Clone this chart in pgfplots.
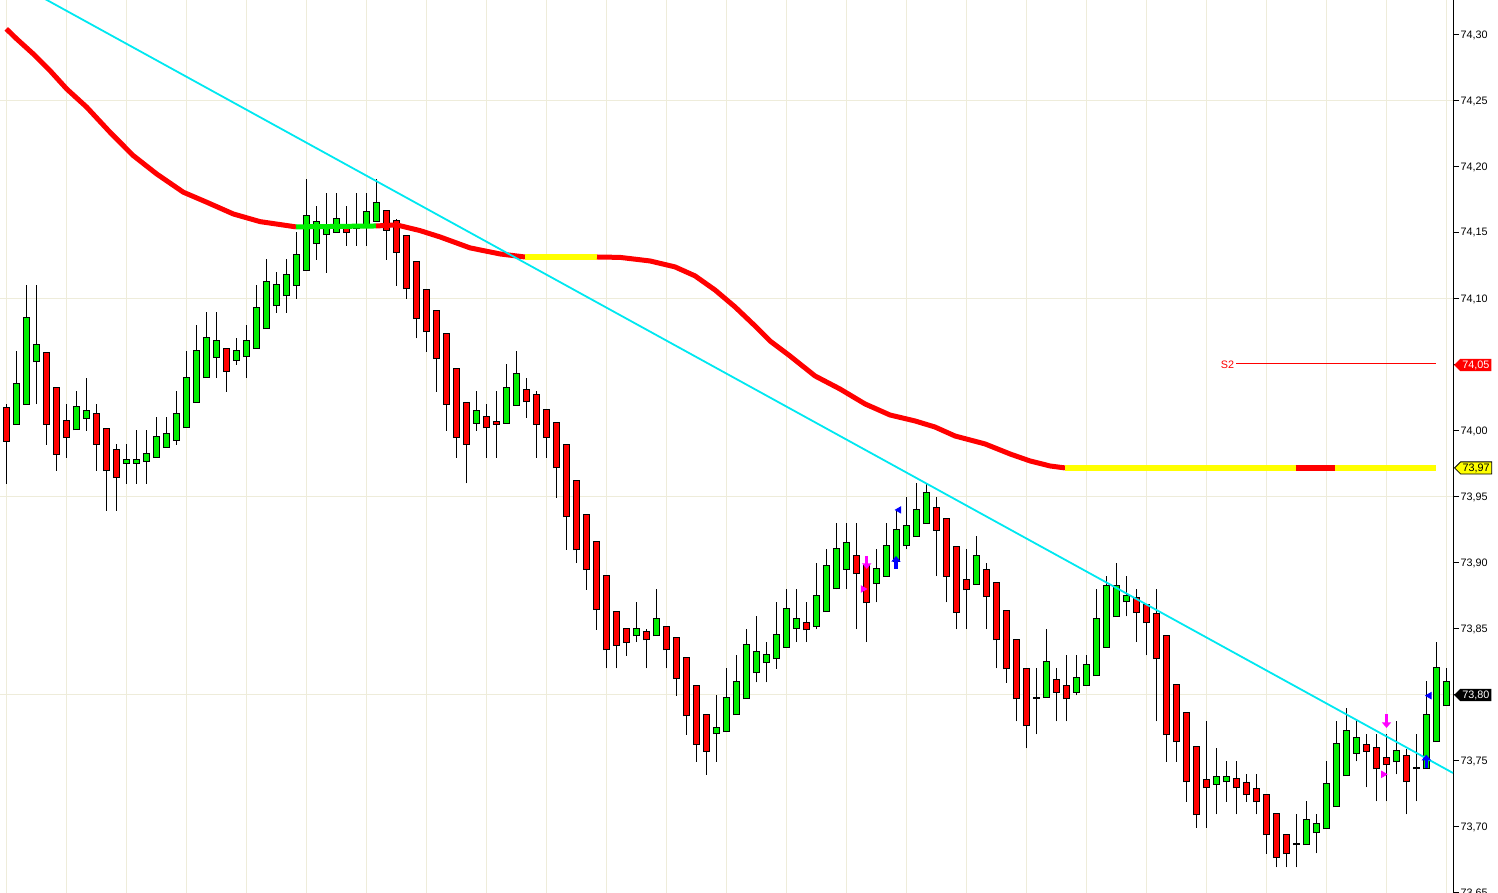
\documentclass[border=0pt]{standalone}
\usepackage{fontspec}
\setmainfont{Liberation Sans}
\usepackage{pgfplots}
\pgfplotsset{compat=1.18}
\usepackage{pgfplotstable}
\usetikzlibrary{shapes.symbols,arrows.meta}

\definecolor{upgreen}{RGB}{0,238,0}
\definecolor{downred}{RGB}{255,0,0}
\definecolor{mayellow}{RGB}{255,255,0}
\definecolor{trendcyan}{RGB}{0,232,240}
\definecolor{gridc}{RGB}{238,236,218}
\definecolor{sigmag}{RGB}{255,0,255}
\definecolor{sigblue}{RGB}{0,0,255}

\newcommand\tagfont{\fontsize{5.4}{6}\selectfont}

% i = bar number, o h l c = open high low close
\pgfplotstableread{
i o h l c
0 74.0172 74.0205 73.9599 73.9927
1 74.0051 74.0609 74.0051 74.0354
2 74.0203 74.1106 74.0203 74.0854
3 74.0528 74.1106 74.0203 74.0650
4 74.0589 74.0589 73.9897 74.0051
5 74.0324 74.0324 73.9700 73.9824
6 74.0074 74.0205 73.9796 73.9953
7 74.0013 74.0303 74.0013 74.0180
8 74.0097 74.0402 74.0003 74.0150
9 74.0127 74.0205 73.9700 73.9900
10 74.0013 74.0013 73.9396 73.9702
11 73.9854 73.9902 73.9396 73.9650
12 73.9756 73.9902 73.9599 73.9778
13 73.9760 74.0008 73.9599 73.9778
14 73.9771 74.0008 73.9599 73.9824
15 73.9801 74.0106 73.9801 73.9953
16 73.9877 74.0106 73.9877 73.9975
17 73.9930 74.0303 73.9897 74.0127
18 74.0028 74.0609 74.0028 74.0400
19 74.0218 74.0803 74.0218 74.0604
20 74.0407 74.0899 74.0407 74.0702
21 74.0559 74.0899 74.0400 74.0680
22 74.0619 74.0619 74.0298 74.0453
23 74.0536 74.0702 74.0502 74.0604
24 74.0566 74.0803 74.0400 74.0680
25 74.0627 74.1106 74.0627 74.0930
26 74.0778 74.1303 74.0778 74.1127
27 74.0952 74.1202 74.0896 74.1104
28 74.1028 74.1303 74.0896 74.1180
29 74.1104 74.1506 74.1002 74.1331
30 74.1218 74.1909 74.1218 74.1627
31 74.1422 74.1705 74.1298 74.1581
32 74.1490 74.1803 74.1199 74.1556
33 74.1506 74.1803 74.1506 74.1604
34 74.1556 74.1705 74.1404 74.1506
35 74.1538 74.1803 74.1404 74.1556
36 74.1543 74.1803 74.1404 74.1657
37 74.1593 74.1909 74.1593 74.1725
38 74.1664 74.1664 74.1298 74.1525
39 74.1593 74.1606 74.1101 74.1354
40 74.1475 74.1475 74.1000 74.1081
41 74.1278 74.1278 74.0702 74.0854
42 74.1066 74.1066 74.0601 74.0755
43 74.0907 74.0907 74.0298 74.0551
44 74.0733 74.0733 74.0003 74.0203
45 74.0467 74.0467 73.9798 73.9953
46 74.0210 74.0210 73.9604 73.9900
47 74.0061 74.0301 74.0003 74.0150
48 74.0104 74.0203 73.9798 74.0028
49 74.0066 74.0301 73.9798 74.0051
50 74.0061 74.0506 74.0061 74.0324
51 74.0195 74.0604 74.0195 74.0430
52 74.0309 74.0400 74.0101 74.0225
53 74.0271 74.0301 73.9798 74.0051
54 74.0157 74.0157 73.9798 73.9953
55 74.0059 74.0059 73.9495 73.9725
56 73.9892 73.9892 73.9101 73.9354
57 73.9619 73.9619 73.8998 73.9104
58 73.9362 73.9362 73.8798 73.8953
59 73.9157 73.9157 73.8495 73.8650
60 73.8900 73.8900 73.8202 73.8346
61 73.8627 73.8627 73.8202 73.8377
62 73.8498 73.8498 73.8298 73.8400
63 73.8452 73.8707 73.8400 73.8498
64 73.8475 73.8498 73.8202 73.8422
65 73.8452 73.8803 73.8452 73.8574
66 73.8513 73.8513 73.8202 73.8346
67 73.8430 73.8430 73.7995 73.8127
68 73.8278 73.8278 73.7699 73.7846
69 73.8066 73.8066 73.7495 73.7627
70 73.7846 73.7846 73.7396 73.7574
71 73.7710 73.8000 73.7495 73.7748
72 73.7725 73.8202 73.7725 73.7975
73 73.7854 73.8301 73.7854 73.8096
74 73.7975 73.8498 73.7975 73.8377
75 73.8172 73.8596 73.8096 73.8324
76 73.8248 73.8400 73.8096 73.8301
77 73.8278 73.8702 73.8199 73.8452
78 73.8362 73.8801 73.8362 73.8650
79 73.8506 73.8801 73.8400 73.8574
80 73.8543 73.8702 73.8400 73.8498
81 73.8521 73.8998 73.8498 73.8748
82 73.8634 73.9104 73.8634 73.8975
83 73.8808 73.9301 73.8801 73.9104
84 73.8953 73.9301 73.8801 73.9150
85 73.9051 73.9301 73.8498 73.8922
86 73.8983 73.8983 73.8400 73.8702
87 73.8846 73.9104 73.8702 73.8953
88 73.8900 73.9301 73.8900 73.9127
89 73.9013 73.9399 73.9013 73.9248
90 73.9134 73.9498 73.9104 73.9278
91 73.9202 73.9604 73.9202 73.9399
92 73.9301 73.9604 73.9301 73.9528
93 73.9415 73.9498 73.8900 73.9248
94 73.9331 73.9331 73.8702 73.8900
95 73.9119 73.9119 73.8498 73.8627
96 73.8869 73.9104 73.8498 73.8801
97 73.8839 73.9202 73.8839 73.9051
98 73.8945 73.8998 73.8498 73.8748
99 73.8846 73.8846 73.8202 73.8422
100 73.8634 73.8634 73.8093 73.8202
101 73.8415 73.8415 73.7801 73.7975
102 73.8195 73.8195 73.7596 73.7770
103 73.7980 73.8202 73.7702 73.7980
104 73.7983 73.8498 73.7983 73.8248
105 73.8112 73.8202 73.7801 73.8021
106 73.8066 73.8301 73.7801 73.7975
107 73.8021 73.8301 73.7998 73.8127
108 73.8074 73.8301 73.8074 73.8225
109 73.8149 73.8801 73.8149 73.8574
110 73.8362 73.8900 73.8362 73.8824
111 73.8596 73.8998 73.8596 73.8824
112 73.8710 73.8900 73.8596 73.8748
113 73.8733 73.8801 73.8400 73.8627
114 73.8680 73.8680 73.8301 73.8551
115 73.8612 73.8801 73.7801 73.8278
116 73.8445 73.8445 73.7495 73.7702
117 73.8074 73.8074 73.7495 73.7649
118 73.7861 73.7861 73.7192 73.7346
119 73.7604 73.7604 73.6995 73.7096
120 73.7354 73.7801 73.6995 73.7301
121 73.7324 73.7596 73.7096 73.7377
122 73.7346 73.7498 73.7192 73.7377
123 73.7362 73.7498 73.7096 73.7301
124 73.7331 73.7399 73.7192 73.7248
125 73.7286 73.7399 73.7096 73.7195
126 73.7240 73.7240 73.6798 73.6945
127 73.7096 73.7096 73.6695 73.6771
128 73.6937 73.6937 73.6695 73.6801
129 73.6869 73.7096 73.6695 73.6869
130 73.6869 73.7195 73.6869 73.7051
131 73.6960 73.7096 73.6801 73.7020
132 73.6990 73.7498 73.6990 73.7324
133 73.7157 73.7801 73.7157 73.7627
134 73.7392 73.7900 73.7392 73.7725
135 73.7559 73.7801 73.7498 73.7672
136 73.7619 73.7702 73.7301 73.7574
137 73.7596 73.7702 73.7195 73.7445
138 73.7520 73.7702 73.7195 73.7475
139 73.7498 73.7801 73.7399 73.7574
140 73.7536 73.7589 73.7096 73.7346
141 73.7445 73.7702 73.7195 73.7445
142 73.7445 73.8104 73.7445 73.7846
143 73.7649 73.8400 73.7649 73.8202
144 73.7922 73.8202 73.7922 73.8096
}\candles

\begin{document}
\begin{tikzpicture}
\begin{axis}[
  scale only axis, width=726.5pt, height=446.5pt,
  xmin=-0.65, xmax=144.65, ymin=73.65, ymax=74.3265,
  clip mode=individual,
  axis line style={draw=none},
  xtick={0,6,...,144}, xticklabels={}, xtick style={draw=none},
  xmajorgrids,
  ytick={73.65,73.70,73.75,73.80,73.85,73.90,73.95,74.00,74.05,74.10,74.15,74.20,74.25,74.30},
  ytick pos=right, yticklabel pos=right,
  tick align=outside, major tick length=3pt,
  ytick style={black, line width=0.5pt},
  extra y ticks={73.80,73.95,74.10,74.25}, extra y tick labels={},
  extra y tick style={grid=major},
  major grid style={gridc, line width=0.5pt},
  scaled y ticks=false,
  yticklabel style={font=\tagfont, inner xsep=0.6pt,
    /pgf/number format/.cd, fixed, fixed zerofill, precision=2, use comma,
    assume math mode=true},
]
\coordinate (sw) at (rel axis cs:0,0);
\draw[black, line width=0.5pt] (rel axis cs:1,0) -- (rel axis cs:1,1);

% wicks
\addplot[draw=none, no markers, error bars/.cd, y dir=plus, y explicit,
  error mark=none, error bar style={draw=black, line width=0.6pt}]
  table[x=i, y=l, y error expr={\thisrow{h}-\thisrow{l}}] {\candles};
% body outlines
\addplot[draw=none, no markers, error bars/.cd, y dir=plus, y explicit,
  error mark=none, error bar style={draw=black, line width=3.5pt}]
  table[x=i, y expr={min(\thisrow{o},\thisrow{c})-0.00076},
        y error expr={abs(\thisrow{c}-\thisrow{o})+0.00152}] {\candles};
% up bodies
\addplot[draw=none, no markers,
  restrict expr to domain={\thisrow{c}-\thisrow{o}}{0:1},
  error bars/.cd, y dir=plus, y explicit,
  error mark=none, error bar style={draw=upgreen, line width=2.5pt}]
  table[x=i, y=o, y error expr={\thisrow{c}-\thisrow{o}}] {\candles};
% down bodies
\addplot[draw=none, no markers,
  restrict expr to domain={\thisrow{o}-\thisrow{c}}{0.00001:1},
  error bars/.cd, y dir=plus, y explicit,
  error mark=none, error bar style={draw=downred, line width=2.5pt}]
  table[x=i, y=c, y error expr={\thisrow{o}-\thisrow{c}}] {\candles};

% moving average, coloured by state
\addplot[downred, line width=2.5pt, line join=round] coordinates {
  (-0.02,74.3046) (1.02,74.2970) (2.68,74.2856) (4.35,74.2730) (6.02,74.2591)
  (8.02,74.2453) (10.35,74.2263) (12.68,74.2086) (15.02,74.1947) (17.68,74.1809)
  (20.02,74.1733) (22.68,74.1644) (25.35,74.1586) (28.95,74.1546)};
\addplot[upgreen, line width=2.5pt] coordinates {(28.95,74.1546) (36.95,74.1553)};
\addplot[downred, line width=2.5pt, line join=round] coordinates {
  (36.95,74.1553) (39.02,74.1561) (41.35,74.1518) (43.35,74.1470) (46.35,74.1387)
  (49.35,74.1341) (51.85,74.1318)};
\addplot[mayellow, line width=3pt] coordinates {(51.85,74.1318) (59.05,74.1318)};
\addplot[downred, line width=2.5pt, line join=round] coordinates {
  (59.05,74.1318) (61.35,74.1315) (64.35,74.1288) (66.85,74.1243) (68.85,74.1175)
  (70.85,74.1068) (72.85,74.0940) (74.85,74.0796) (76.35,74.0682) (78.35,74.0568)
  (80.85,74.0417) (83.35,74.0318) (85.85,74.0205) (88.35,74.0121) (90.85,74.0076)
  (92.85,74.0030) (94.85,73.9962) (97.85,73.9902) (100.35,73.9826) (102.35,73.9773)
  (104.35,73.9735) (105.85,73.9720)};
\addplot[mayellow, line width=3pt] coordinates {(105.85,73.9720) (128.92,73.9720)};
\addplot[downred, line width=3pt] coordinates {(128.92,73.9720) (132.85,73.9720)};
\addplot[mayellow, line width=3pt] coordinates {(132.85,73.9720) (142.95,73.9720)};

% trend line
\addplot[trendcyan, line width=0.9pt] coordinates {(-0.65,74.3460) (144.65,73.7409)};

% S2 level
\addplot[downred, line width=0.5pt] coordinates {(122.95,74.0508) (142.95,74.0508)};
\node[anchor=east, text=downred, font=\tagfont, inner sep=0.5pt] at (axis cs:122.9,74.0500) {S2};

% signals
\addplot[sigmag, line width=1.75pt, no markers, -{Triangle[width=4.5pt,length=2.8pt]},
  quiver={u=0,v=-0.0098}] coordinates {(86.02,73.9053)};
\addplot[sigmag, line width=1.75pt, no markers, -{Triangle[width=4.5pt,length=2.8pt]},
  quiver={u=0,v=-0.0106}] coordinates {(138.0,73.7856)};
\addplot[sigblue, line width=1.75pt, no markers, -{Triangle[width=4.5pt,length=2.8pt]},
  quiver={u=0,v=0.0098}] coordinates {(88.95,73.8955)};
\addplot[sigblue, line width=1.75pt, no markers, -{Triangle[width=4.5pt,length=2.8pt]},
  quiver={u=0,v=0.0103}] coordinates {(141.98,73.7445)};
\addplot[only marks, mark=triangle*, mark size=1.8pt, sigmag,
  mark options={rotate=-90}] coordinates {(85.65,73.8803) (137.68,73.7399)};
\addplot[only marks, mark=triangle*, mark size=1.8pt, sigblue,
  mark options={rotate=90}] coordinates {(89.25,73.9402) (142.28,73.7995)};

% price tags on the scale
\node[signal, signal to=west, fill=downred, text=white, font=\tagfont,
  inner xsep=1pt, inner ysep=0.8pt, anchor=west]
  at ([xshift=0.3pt]axis cs:144.65,74.05) {74,05};
\node[signal, signal to=west, fill=mayellow, draw=black, line width=0.4pt, text=black,
  font=\tagfont, inner xsep=1pt, inner ysep=0.8pt, anchor=west]
  at ([xshift=0.5pt]axis cs:144.65,73.972) {73,97};
\node[signal, signal to=west, fill=black, text=white, font=\tagfont,
  inner xsep=1pt, inner ysep=0.8pt, anchor=west]
  at ([xshift=0.3pt]axis cs:144.65,73.80) {73,80};
\end{axis}
\pgfresetboundingbox
\path[use as bounding box] (sw) rectangle ++(749pt,446.5pt);
\end{tikzpicture}
\end{document}
